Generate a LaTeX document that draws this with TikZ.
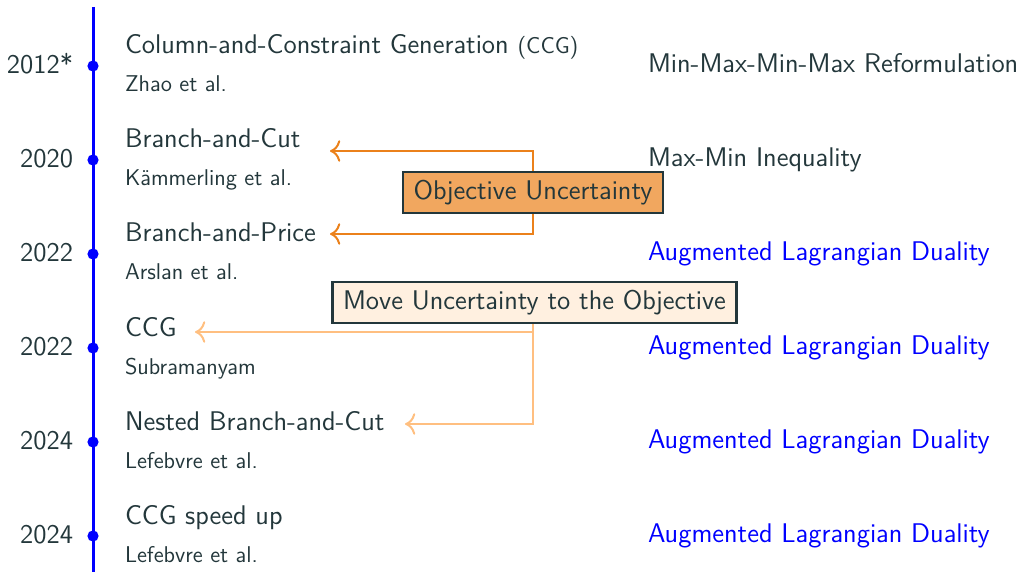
\documentclass[tikz,border=0pt]{standalone}
\usepackage{fontspec}
\usetikzlibrary{arrows.meta}
\begin{document}
\definecolor{ink}{HTML}{23373B}
\definecolor{brown}{HTML}{EB811B}
\begin{tikzpicture}[x=0.5pt,y=-0.5pt,
  every node/.style={font=\sffamily, text=ink},
  big/.style={font=\sffamily\fontsize{13.5}{16}\selectfont},
  small/.style={font=\sffamily\fontsize{11.4}{13.6}\selectfont},
  plain/.style={inner sep=0pt, outer sep=0pt},
  year/.style={big, plain, anchor=base east},
  title/.style={big, plain, anchor=base west},
  author/.style={small, plain, anchor=base west},
  method/.style={big, plain, anchor=base west},
  blueitem/.style={method, text=blue},
  dot/.style={circle, fill=blue, inner sep=0pt, minimum size=5.6pt},
  timeline/.style={blue, line width=1.5pt},
  tagbox/.style={big, draw=ink, line width=1.1pt, inner xsep=5.3pt,
                 minimum height=20.5pt, inner ysep=0pt},
  strong/.style={brown, line width=1pt, -{To[scale=1.35]}},
  light/.style={orange!50, line width=1pt, -{To[scale=1.35]}}]
\useasboundingbox (0,0) rectangle (1023,572);

% timeline axis
\coordinate (ltop) at (93,7);
\coordinate (lbot) at (93,572);
\draw[timeline] (ltop) -- (lbot);

% dots and years
\foreach \i/\y/\yr in {1/66/2012*, 2/160/2020, 3/254/2022, 4/348/2022, 5/442/2024, 6/536/2024}{
  \node[dot] (d\i) at (93,\y) {};
  \node[year] (y\i) at (73,\y+7.5) {\yr};
}

% methods and authors
\node[title] (t1) at (125,54) {Column-and-Constraint Generation {\fontsize{11.4}{13}\selectfont(CCG)}};
\node[author] (a1) at (125,92) {Zhao et al.};
\node[title] (t2) at (125,148) {Branch-and-Cut};
\node[author] (a2) at (125,186) {Kämmerling et al.};
\node[title] (t3) at (125,242) {Branch-and-Price};
\node[author] (a3) at (125,280) {Arslan et al.};
\node[title] (t4) at (125,336) {CCG};
\node[author] (a4) at (125,374) {Subramanyam};
\node[title] (t5) at (125,430) {Nested Branch-and-Cut};
\node[author] (a5) at (125,468) {Lefebvre et al.};
\node[title] (t6) at (125,524) {CCG speed up};
\node[author] (a6) at (125,562) {Lefebvre et al.};

% solution approaches
\node[method] (m1) at (648,72.5) {Min-Max-Min-Max Reformulation};
\node[method] (m2) at (648,166.5) {Max-Min Inequality};
\node[blueitem] (m3) at (648,260.5) {Augmented Lagrangian Duality};
\node[blueitem] (m4) at (648,354.5) {Augmented Lagrangian Duality};
\node[blueitem] (m5) at (648,448.5) {Augmented Lagrangian Duality};
\node[blueitem] (m6) at (648,542.5) {Augmented Lagrangian Duality};

% arrow targets next to the method names
\coordinate (e2) at (330,151);
\coordinate (e3) at (330,234);
\coordinate (e4) at (195,332);
\coordinate (e5) at (405,424);

% categories
\node[tagbox, fill=brown!70] (obj) at (533,192.5) {Objective Uncertainty};
\node[tagbox, fill=orange!12] (mov) at (534.5,302.5) {Move Uncertainty to the Objective};

\draw[strong] (obj.north -| 533,0) |- (e2);
\draw[strong] (obj.south -| 533,0) |- (e3);
\draw[light] (mov.south -| 533,0) |- (e4);
\draw[light] (mov.south -| 533,0) |- (e5);
\end{tikzpicture}
\end{document}
